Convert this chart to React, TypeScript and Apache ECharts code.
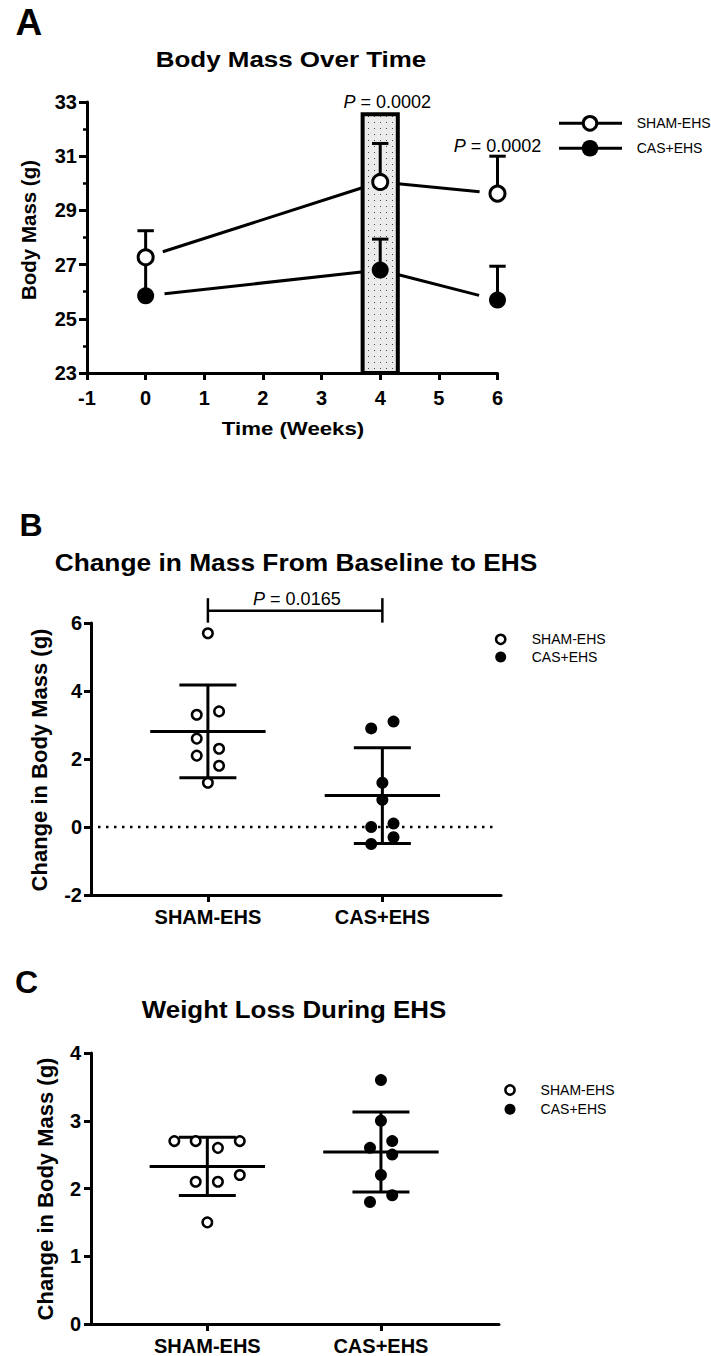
import React, { useEffect, useRef } from "react";
import * as echarts from "echarts";

const FONT = '"Liberation Sans", Arial, Helvetica, sans-serif';

// ---------- Panel A : body mass over time ----------
const weeksA = [0, 4, 6];
const massTicksA = [23, 25, 27, 29, 31, 33];
const shamMassA = [27.27, 30.05, 29.62];
const shamSemTopA = [28.25, 31.47, 31.0];
const casMassA = [25.85, 26.8, 25.69];
const casSemTopA = [27.2, 27.94, 26.94];
const ehsWindowA = [3.7, 4.3, 32.55]; // from week, to week, top (g)
const pTextA = ["P = 0.0002", "P = 0.0002"];
const pAnchorXA = [4.12, 6];
const pAnchorYA = [33.01, 31.38];

// ---------- Panel B : change from baseline to EHS ----------
const groupNames = ["SHAM-EHS", "CAS+EHS"];
const shamB = [5.7, 3.4, 3.3, 2.6, 2.3, 2.1, 1.8, 1.3];
const shamJitterB = [0, 0.064, -0.064, -0.064, 0.064, -0.064, 0.064, 0];
const casB = [2.9, 3.1, 1.3, 0.8, 0.0, 0.1, -0.3, -0.5];
const casJitterB = [-0.064, 0.064, 0, 0, -0.064, 0.064, 0.064, -0.064];
const pTextB = "P = 0.0165";
const pBracketB = [0, 1, 6.36, 6.73, 6.01]; // from, to, bar level, tick top, tick bottom
const pLabelB = [0.51, 6.7];
const zeroLineB = [-0.63, 1.64];

// ---------- Panel C : weight loss during EHS ----------
const shamC = [2.7, 2.7, 2.7, 2.6, 2.2, 2.1, 2.1, 1.5];
const shamJitterC = [-0.19, -0.067, 0.187, 0.061, 0.187, -0.067, 0.061, 0];
const casC = [3.6, 3.0, 2.7, 2.6, 2.5, 2.2, 1.9, 1.8];
const casJitterC = [0, 0, 0.065, -0.063, 0.065, 0, 0.065, -0.063];

const mean = (a: number[]) => a.reduce((s, v) => s + v, 0) / a.length;
const sd = (a: number[]) => {
  const m = mean(a);
  return Math.sqrt(a.reduce((s, v) => s + (v - m) * (v - m), 0) / (a.length - 1));
};

const BLACK = "#000";
const TICK_FONT = 20;

function makeDotCanvas() {
  const c = document.createElement("canvas");
  c.width = 6;
  c.height = 6;
  const ctx = c.getContext("2d");
  if (ctx) {
    ctx.fillStyle = "#ebebeb";
    ctx.fillRect(0, 0, 6, 6);
    ctx.fillStyle = "#4a4a4a";
    ctx.fillRect(2, 2, 1, 1);
  }
  return c;
}

function axisBase(extra: any = {}) {
  return {
    axisLine: { show: true, onZero: false, lineStyle: { color: BLACK, width: 3 } },
    axisTick: { show: true, length: 7, lineStyle: { color: BLACK, width: 3 } },
    axisLabel: { color: BLACK, fontFamily: FONT, fontWeight: "bold", fontSize: TICK_FONT },
    splitLine: { show: false },
    ...extra,
  };
}

function connectSeries(xs: number[], ys: number[], gap: number) {
  const segs: number[][] = [];
  for (let i = 0; i < xs.length - 1; i++) segs.push([xs[i], ys[i], xs[i + 1], ys[i + 1]]);
  return {
    type: "custom",
    xAxisIndex: 0,
    yAxisIndex: 0,
    z: 1,
    clip: false,
    silent: true,
    data: segs,
    renderItem: (params: any, api: any) => {
      const p0 = api.coord([api.value(0), api.value(1)]);
      const p1 = api.coord([api.value(2), api.value(3)]);
      const dx = p1[0] - p0[0];
      const dy = p1[1] - p0[1];
      const L = Math.hypot(dx, dy) || 1;
      const ux = dx / L;
      const uy = dy / L;
      return {
        type: "line",
        shape: { x1: p0[0] + ux * gap, y1: p0[1] + uy * gap, x2: p1[0] - ux * gap, y2: p1[1] - uy * gap },
        style: { stroke: BLACK, lineWidth: 3 },
      };
    },
  };
}

function errorBarSeries(xs: number[], ms: number[], tops: number[]) {
  return {
    type: "custom",
    xAxisIndex: 0,
    yAxisIndex: 0,
    z: 3,
    clip: false,
    silent: true,
    data: xs.map((x, i) => [x, ms[i], tops[i]]),
    renderItem: (params: any, api: any) => {
      const c = api.coord([api.value(0), api.value(1)]);
      const t = api.coord([api.value(0), api.value(2)]);
      const st = { stroke: BLACK, lineWidth: 3 };
      return {
        type: "group",
        children: [
          { type: "line", shape: { x1: c[0], y1: c[1], x2: t[0], y2: t[1] }, style: st },
          { type: "line", shape: { x1: t[0] - 8.2, y1: t[1], x2: t[0] + 8.2, y2: t[1] }, style: st },
        ],
      };
    },
  };
}

function summarySeries(xi: number, yi: number, groups: number[][]) {
  return {
    type: "custom",
    xAxisIndex: xi,
    yAxisIndex: yi,
    z: 2,
    clip: false,
    silent: true,
    data: groups.map((g, i) => [i, mean(g), sd(g)]),
    renderItem: (params: any, api: any) => {
      const x = api.value(0);
      const m = api.value(1);
      const s = api.value(2);
      const c = api.coord([x, m]);
      const t = api.coord([x, m + s]);
      const b = api.coord([x, m - s]);
      const st = { stroke: BLACK, lineWidth: 3 };
      return {
        type: "group",
        children: [
          { type: "line", shape: { x1: c[0] - 57.7, y1: c[1], x2: c[0] + 57.7, y2: c[1] }, style: st },
          { type: "line", shape: { x1: t[0], y1: t[1], x2: b[0], y2: b[1] }, style: st },
          { type: "line", shape: { x1: t[0] - 28.5, y1: t[1], x2: t[0] + 28.5, y2: t[1] }, style: st },
          { type: "line", shape: { x1: b[0] - 28.5, y1: b[1], x2: b[0] + 28.5, y2: b[1] }, style: st },
        ],
      };
    },
  };
}

function dotsSeries(xi: number, yi: number, cat: number, vals: number[], jit: number[], open: boolean) {
  return {
    type: "scatter",
    xAxisIndex: xi,
    yAxisIndex: yi,
    z: 4,
    silent: true,
    symbol: "circle",
    symbolSize: open ? 9.5 : 12,
    itemStyle: open
      ? { color: "#fff", borderColor: BLACK, borderWidth: 2.5, opacity: 1 }
      : { color: BLACK, borderWidth: 0, opacity: 1 },
    emphasis: { disabled: true },
    data: vals.map((v, i) => [cat + jit[i], v]),
  };
}

function pRich(text: string, size: number) {
  const rest = text.replace(/^P/, "");
  return {
    text: "{i|P}" + rest,
    fontSize: size,
    fontFamily: FONT,
    fill: BLACK,
    rich: { i: { fontStyle: "italic", fontSize: size, fontFamily: FONT, fill: BLACK } },
    align: "center",
    verticalAlign: "middle",
    textAlign: "center",
    textVerticalAlign: "middle",
  };
}

function gText(text: string, x: number, y: number, size: number, bold: boolean, extra: any = {}, align = "center") {
  return {
    type: "text",
    x,
    y,
    silent: true,
    ...extra,
    style: {
      text,
      fontSize: size,
      fontWeight: bold ? "bold" : "normal",
      fontFamily: FONT,
      fill: BLACK,
      align,
      verticalAlign: "middle",
      textAlign: align,
      textVerticalAlign: "middle",
    },
  };
}

function legend(x: number, textX: number, y1: number, y2: number, withLine: boolean, big: boolean) {
  const els: any[] = [];
  const rOpen = big ? 6.8 : 4.6;
  const rFill = big ? 8.3 : 5.5;
  const lw = big ? 3 : 2.5;
  [y1, y2].forEach((y, i) => {
    if (withLine) {
      els.push({ type: "line", silent: true, shape: { x1: x - 31, y1: y, x2: x + 32, y2: y }, style: { stroke: BLACK, lineWidth: 3 } });
    }
    els.push({
      type: "circle",
      silent: true,
      shape: { cx: x, cy: y, r: i === 0 ? rOpen : rFill },
      style: i === 0 ? { fill: "#fff", stroke: BLACK, lineWidth: lw } : { fill: BLACK },
    });
    els.push(gText(groupNames[i], textX, y, 14, false, {}, "left"));
  });
  return els;
}

export default function App() {
  const ref = useRef<HTMLDivElement>(null);

  useEffect(() => {
    if (!ref.current) return;
    const chart = echarts.init(ref.current, undefined, { renderer: "svg" });
    const dotCanvas = makeDotCanvas();

    const catAxis = (gridIndex: number, margin: number) => ({
      type: "value",
      gridIndex,
      position: "bottom",
      min: -0.67,
      max: 1.68,
      ...axisBase(),
      axisTick: { show: true, length: 7, customValues: [0, 1], lineStyle: { color: BLACK, width: 3 } },
      axisLabel: {
        color: BLACK,
        fontFamily: FONT,
        fontWeight: "bold",
        fontSize: TICK_FONT,
        margin,
        customValues: [0, 1],
        formatter: (v: number) => groupNames[Math.round(v)] ?? "",
      },
    });

    const option: any = {
      animation: false,
      backgroundColor: "#fff",
      textStyle: { fontFamily: FONT },
      grid: [
        { left: 87, top: 102, width: 410.5, height: 271, containLabel: false, outerBoundsMode: "none" },
        { left: 91, top: 623, width: 410, height: 272, containLabel: false, outerBoundsMode: "none" },
        { left: 91, top: 1053, width: 408, height: 271, containLabel: false, outerBoundsMode: "none" },
      ],
      xAxis: [
        {
          type: "value",
          gridIndex: 0,
          position: "bottom",
          min: -1,
          max: 6,
          interval: 1,
          ...axisBase(),
          axisLabel: { color: BLACK, fontFamily: FONT, fontWeight: "bold", fontSize: TICK_FONT, margin: 15 },
        },
        catAxis(1, 12),
        catAxis(2, 12),
      ],
      yAxis: [
        {
          type: "value",
          gridIndex: 0,
          position: "left",
          min: 23,
          max: 33,
          ...axisBase(),
          axisTick: { show: true, length: 8, customValues: massTicksA, lineStyle: { color: BLACK, width: 3 } },
          axisLabel: { color: BLACK, fontFamily: FONT, fontWeight: "bold", fontSize: TICK_FONT, margin: 10, customValues: massTicksA },
        },
        {
          type: "value",
          gridIndex: 0,
          position: "left",
          min: 23,
          max: 33,
          interval: 1,
          axisLine: { show: false, onZero: false },
          axisTick: { show: true, length: 4, lineStyle: { color: BLACK, width: 2.5 } },
          axisLabel: { show: false },
          splitLine: { show: false },
        },
        {
          type: "value",
          gridIndex: 1,
          position: "left",
          min: -2,
          max: 6,
          interval: 2,
          ...axisBase(),
          axisLabel: { color: BLACK, fontFamily: FONT, fontWeight: "bold", fontSize: TICK_FONT, margin: 9 },
        },
        {
          type: "value",
          gridIndex: 2,
          position: "left",
          min: 0,
          max: 4,
          interval: 1,
          ...axisBase(),
          axisLabel: { color: BLACK, fontFamily: FONT, fontWeight: "bold", fontSize: TICK_FONT, margin: 10 },
        },
      ],
      series: [
        // ---- Panel A ----
        connectSeries(weeksA, shamMassA, 18),
        connectSeries(weeksA, casMassA, 19),
        {
          type: "custom",
          xAxisIndex: 0,
          yAxisIndex: 0,
          z: 2,
          clip: false,
          silent: true,
          data: [ehsWindowA],
          renderItem: (params: any, api: any) => {
            const p0 = api.coord([api.value(0), api.value(2)]);
            const p1 = api.coord([api.value(1), massTicksA[0]]);
            return {
              type: "rect",
              shape: { x: p0[0], y: p0[1], width: p1[0] - p0[0], height: p1[1] - p0[1] },
              style: {
                fill: { image: dotCanvas, repeat: "repeat", imageWidth: 6, imageHeight: 6 },
                stroke: BLACK,
                lineWidth: 4,
              },
            };
          },
        },
        errorBarSeries(weeksA, casMassA, casSemTopA),
        errorBarSeries(weeksA, shamMassA, shamSemTopA),
        {
          type: "scatter",
          xAxisIndex: 0,
          yAxisIndex: 0,
          z: 5,
          silent: true,
          symbol: "circle",
          symbolSize: 17,
          itemStyle: { color: BLACK, opacity: 1 },
          emphasis: { disabled: true },
          data: weeksA.map((w, i) => [w, casMassA[i]]),
        },
        {
          type: "scatter",
          xAxisIndex: 0,
          yAxisIndex: 0,
          z: 6,
          silent: true,
          symbol: "circle",
          symbolSize: 15,
          itemStyle: { color: "#fff", borderColor: BLACK, borderWidth: 3, opacity: 1 },
          emphasis: { disabled: true },
          data: weeksA.map((w, i) => [w, shamMassA[i]]),
        },
        {
          type: "custom",
          xAxisIndex: 0,
          yAxisIndex: 0,
          z: 7,
          clip: false,
          silent: true,
          data: pAnchorXA.map((x, i) => [x, pAnchorYA[i]]),
          renderItem: (params: any, api: any) => {
            const p = api.coord([api.value(0), api.value(1)]);
            return { type: "text", x: p[0], y: p[1], style: pRich(pTextA[params.dataIndex], 18) };
          },
        },
        // ---- Panel B ----
        {
          type: "line",
          xAxisIndex: 1,
          yAxisIndex: 2,
          z: 1,
          silent: true,
          symbol: "none",
          lineStyle: { color: BLACK, width: 2.5, type: [2.5, 5.5] },
          data: [
            [zeroLineB[0], 0],
            [zeroLineB[1], 0],
          ],
        },
        summarySeries(1, 2, [shamB, casB]),
        dotsSeries(1, 2, 0, shamB, shamJitterB, true),
        dotsSeries(1, 2, 1, casB, casJitterB, false),
        {
          type: "custom",
          xAxisIndex: 1,
          yAxisIndex: 2,
          z: 5,
          clip: false,
          silent: true,
          data: [pBracketB],
          renderItem: (params: any, api: any) => {
            const a = api.coord([api.value(0), api.value(2)]);
            const b = api.coord([api.value(1), api.value(2)]);
            const at = api.coord([api.value(0), api.value(3)]);
            const ab = api.coord([api.value(0), api.value(4)]);
            const bt = api.coord([api.value(1), api.value(3)]);
            const bb = api.coord([api.value(1), api.value(4)]);
            const lbl = api.coord(pLabelB);
            const st = { stroke: BLACK, lineWidth: 2.5 };
            return {
              type: "group",
              children: [
                { type: "line", shape: { x1: a[0], y1: a[1], x2: b[0], y2: b[1] }, style: st },
                { type: "line", shape: { x1: at[0], y1: at[1], x2: ab[0], y2: ab[1] }, style: st },
                { type: "line", shape: { x1: bt[0], y1: bt[1], x2: bb[0], y2: bb[1] }, style: st },
                { type: "text", x: lbl[0], y: lbl[1], style: pRich(pTextB, 18) },
              ],
            };
          },
        },
        // ---- Panel C ----
        summarySeries(2, 3, [shamC, casC]),
        dotsSeries(2, 3, 0, shamC, shamJitterC, true),
        dotsSeries(2, 3, 1, casC, casJitterC, false),
      ],
      graphic: [
        // panel letters
        gText("A", 15.5, 22.7, 37, true, {}, "left"),
        gText("B", 19.5, 525, 32, true, {}, "left"),
        gText("C", 15, 981.7, 32, true, {}, "left"),
        // titles
        gText("Body Mass Over Time", 291, 59.5, 22, true, { scaleX: 1.18 }),
        gText("Change in Mass From Baseline to EHS", 296, 562.5, 24, true, { scaleX: 1.097 }),
        gText("Weight Loss During EHS", 294, 1010, 23, true, { scaleX: 1.126 }),
        // axis names
        gText("Body Mass (g)", 28, 230, 20.5, true, { rotation: Math.PI / 2 }),
        gText("Time (Weeks)", 293, 428.3, 19, true, { scaleX: 1.17 }),
        gText("Change in Body Mass (g)", 39, 760, 22, true, { rotation: Math.PI / 2 }),
        gText("Change in Body Mass (g)", 45.6, 1189, 22, true, { rotation: Math.PI / 2 }),
        // legends
        ...legend(590, 636.7, 123.3, 148.3, true, true),
        ...legend(500.7, 531.7, 639.3, 656.9, false, false),
        ...legend(510, 540.6, 1090, 1109.3, false, false),
      ],
    };

    chart.setOption(option);
    return () => {
      chart.dispose();
    };
  }, []);

  return (
    <div
      ref={ref}
      style={{ position: "absolute", left: 0, top: 0, width: 711, height: 1356, background: "#fff" }}
    />
  );
}
